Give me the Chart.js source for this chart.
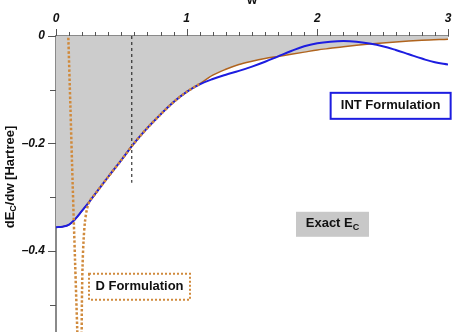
<!DOCTYPE html>
<html>
<head>
<meta charset="utf-8">
<script src="https://cdn.jsdelivr.net/npm/chart.js@4.4.1/dist/chart.umd.min.js"></script>
<style>
  html, body { margin: 0; padding: 0; background: #fff; }
  #wrap { width: 455px; height: 332px; position: relative; }
</style>
</head>
<body>
<div id="wrap"><canvas id="dEdw"></canvas></div>
<script>
// exact dE_C/dw (filled grey area)
const exactW = [0, 0.05, 0.1, 0.15, 0.2, 0.25, 0.3, 0.4, 0.5, 0.6, 0.7, 0.8, 0.9, 1.0, 1.1,
  1.2, 1.3, 1.4, 1.5, 1.6, 1.7, 1.8, 1.9, 2.0, 2.1, 2.2, 2.4, 2.6, 2.8, 3.0];
const exactY = [-0.356, -0.355, -0.351, -0.340, -0.325, -0.310, -0.294, -0.262, -0.231, -0.199, -0.171, -0.146, -0.123, -0.104, -0.089,
  -0.073, -0.062, -0.053, -0.047, -0.042, -0.038, -0.034, -0.030, -0.026, -0.023, -0.020, -0.015, -0.011, -0.008, -0.006];

// INT formulation
const intW = [0, 0.05, 0.1, 0.15, 0.2, 0.25, 0.3, 0.4, 0.5, 0.6, 0.7, 0.8, 0.9, 1.0, 1.1,
  1.2, 1.3, 1.4, 1.5, 1.6, 1.7, 1.8, 1.9, 2.0, 2.1, 2.2, 2.3, 2.4, 2.5, 2.6, 2.7, 2.8, 2.9, 3.0];
const intY = [-0.356, -0.355, -0.351, -0.340, -0.325, -0.310, -0.294, -0.262, -0.231, -0.199, -0.171, -0.146, -0.123, -0.104, -0.090,
  -0.080, -0.072, -0.065, -0.057, -0.048, -0.038, -0.028, -0.019, -0.0135, -0.0105, -0.0093, -0.0105, -0.014, -0.019, -0.026, -0.034, -0.042, -0.049, -0.053];

// D formulation (pole near w = 0.18, null splits the two branches)
const dW = [0.090, 0.094, 0.110, 0.128, 0.146, 0.163, 0.166, 0.18,
  0.196, 0.198, 0.203, 0.211, 0.222, 0.238, 0.26, 0.3, 0.4, 0.5, 0.6, 0.7, 0.8, 0.9, 1.0, 1.1];
const dY = [0.03, 0, -0.13, -0.28, -0.42, -0.55, -0.58, null,
  -0.58, -0.5, -0.43, -0.38, -0.345, -0.321, -0.306, -0.294, -0.262, -0.231, -0.199, -0.171, -0.146, -0.123, -0.104, -0.089];

// dashed marker
const cutW = [0.58, 0.58];
const cutY = [0, -0.273];

const xTicks = [0, 1, 2, 3];
const xTickLabels = ["0", "1", "2", "3"];
const yTicks = [0, -0.2, -0.4];
const yTickLabels = ["0", "\u20130.2", "\u20130.4"];

const pts = (xs, ys) => xs.map((x, i) => ({ x: x, y: ys[i] }));

const FONT = '"Liberation Sans", Arial, sans-serif';

function drawBox(ctx, cx, cy, w, h, fill, stroke, dash) {
  ctx.save();
  if (fill) {
    ctx.fillStyle = fill;
    ctx.fillRect(cx - w / 2, cy - h / 2, w, h);
  }
  if (stroke) {
    ctx.strokeStyle = stroke;
    ctx.lineWidth = 2;
    ctx.setLineDash(dash || []);
    ctx.strokeRect(cx - w / 2, cy - h / 2, w, h);
  }
  ctx.restore();
}

// text with a subscript piece: parts = [[text, isSub], ...]
function drawParts(ctx, parts, cx, cy, size) {
  const big = "bold " + size + "px " + FONT;
  const small = "bold " + Math.round(size * 0.72) + "px " + FONT;
  let total = 0;
  parts.forEach(([t, sub]) => { ctx.font = sub ? small : big; total += ctx.measureText(t).width; });
  let x = cx - total / 2;
  ctx.textAlign = "left";
  ctx.textBaseline = "middle";
  parts.forEach(([t, sub]) => {
    ctx.font = sub ? small : big;
    ctx.fillText(t, x, sub ? cy + size * 0.3 : cy);
    x += ctx.measureText(t).width;
  });
}

const decor = {
  id: "decor",
  afterDraw(chart) {
    const { ctx, chartArea } = chart;
    const xs = chart.scales.x, ys = chart.scales.y;
    ctx.save();
    ctx.strokeStyle = "#555";
    ctx.lineWidth = 1;
    // x minor/major ticks (pointing up)
    for (let i = 0; i <= 30; i++) {
      const px = Math.round(xs.getPixelForValue(i / 10)) + 0.5;
      const len = i % 10 === 0 ? 7 : 4;
      ctx.beginPath();
      ctx.moveTo(px, chartArea.top);
      ctx.lineTo(px, chartArea.top - len);
      ctx.stroke();
    }
    // y ticks (pointing left)
    for (let i = 0; i <= 5; i++) {
      const py = Math.round(ys.getPixelForValue(-i / 10)) + 0.5;
      const len = i % 2 === 0 ? 8 : 6;
      ctx.beginPath();
      ctx.moveTo(chartArea.left, py);
      ctx.lineTo(chartArea.left - len, py);
      ctx.stroke();
    }
    ctx.fillStyle = "#111";
    // x axis title, mostly cut off at the top
    ctx.font = "bold 13px " + FONT;
    ctx.textAlign = "center";
    ctx.textBaseline = "middle";
    ctx.fillText("w", (chartArea.left + chartArea.right) / 2, 0);

    // y axis title
    ctx.save();
    ctx.translate(10, 177);
    ctx.rotate(-Math.PI / 2);
    drawParts(ctx, [["dE", false], ["C", true], ["/dw [Hartree]", false]], 0, 0, 13);
    ctx.restore();

    // labels
    let cx = xs.getPixelForValue(2.561), cy = ys.getPixelForValue(-0.130);
    drawBox(ctx, cx, cy, 120, 26, "#fff", "#1d1de0");
    ctx.fillStyle = "#111";
    drawParts(ctx, [["INT Formulation", false]], cx, cy, 13);

    cx = xs.getPixelForValue(2.116); cy = ys.getPixelForValue(-0.3505);
    drawBox(ctx, cx, cy, 73, 25, "#c8c8c8", null);
    ctx.fillStyle = "#111";
    drawParts(ctx, [["Exact E", false], ["C", true]], cx, cy - 1, 13);

    cx = xs.getPixelForValue(0.639); cy = ys.getPixelForValue(-0.467);
    drawBox(ctx, cx, cy, 101, 26, "#fff", "#d08a3c", [2, 2]);
    ctx.fillStyle = "#111";
    drawParts(ctx, [["D Formulation", false]], cx, cy, 13);
    ctx.restore();
  }
};

new Chart(document.getElementById("dEdw"), {
  type: "line",
  data: {
    datasets: [
      {
        label: "D Formulation",
        data: pts(dW, dY),
        borderColor: "#d08a3c",
        borderWidth: 2.5,
        borderDash: [2.5, 2],
        pointRadius: 0,
        tension: 0.3,
        spanGaps: false,
        fill: false
      },
      {
        label: "cut",
        data: pts(cutW, cutY),
        borderColor: "#111",
        borderWidth: 1,
        borderDash: [3, 3],
        pointRadius: 0,
        fill: false
      },
      {
        label: "INT Formulation",
        data: pts(intW, intY),
        borderColor: "#1d1de0",
        borderWidth: 2,
        pointRadius: 0,
        tension: 0.4,
        fill: false
      },
      {
        label: "Exact",
        data: pts(exactW, exactY),
        borderColor: "#b0641e",
        borderWidth: 1.5,
        pointRadius: 0,
        cubicInterpolationMode: "monotone",
        fill: { target: "origin" },
        backgroundColor: "#cccccc"
      }
    ]
  },
  options: {
    responsive: true,
    maintainAspectRatio: false,
    animation: false,
    layout: { padding: { left: 0, top: 0, right: 7, bottom: 0 } },
    plugins: { legend: { display: false }, tooltip: { enabled: false } },
    scales: {
      x: {
        type: "linear",
        position: "top",
        min: 0,
        max: 3,
        z: 1,
        afterBuildTicks: (s) => { s.ticks = xTicks.map((v) => ({ value: v })); },
        afterFit: (s) => { s.height = 36; s.paddingLeft = 0; s.paddingRight = 0; },
        grid: { display: false, drawTicks: false },
        border: { display: true, color: "#8a8a8a", width: 2 },
        ticks: {
          padding: 10,
          color: "#111",
          font: { family: FONT, size: 12, weight: "bold", style: "italic" },
          callback: (v) => xTickLabels[xTicks.indexOf(v)]
        }
      },
      y: {
        type: "linear",
        position: "left",
        min: -0.551,
        max: 0,
        z: 1,
        afterBuildTicks: (s) => { s.ticks = yTicks.map((v) => ({ value: v })); },
        afterFit: (s) => { s.width = 56; s.paddingTop = 0; s.paddingBottom = 0; },
        grid: { display: false, drawTicks: false },
        border: { display: true, color: "#8a8a8a", width: 2 },
        ticks: {
          padding: 11,
          color: "#111",
          font: { family: FONT, size: 12, weight: "bold", style: "italic" },
          callback: (v) => yTickLabels[yTicks.indexOf(v)]
        }
      }
    }
  },
  plugins: [decor]
});
</script>
</body>
</html>
